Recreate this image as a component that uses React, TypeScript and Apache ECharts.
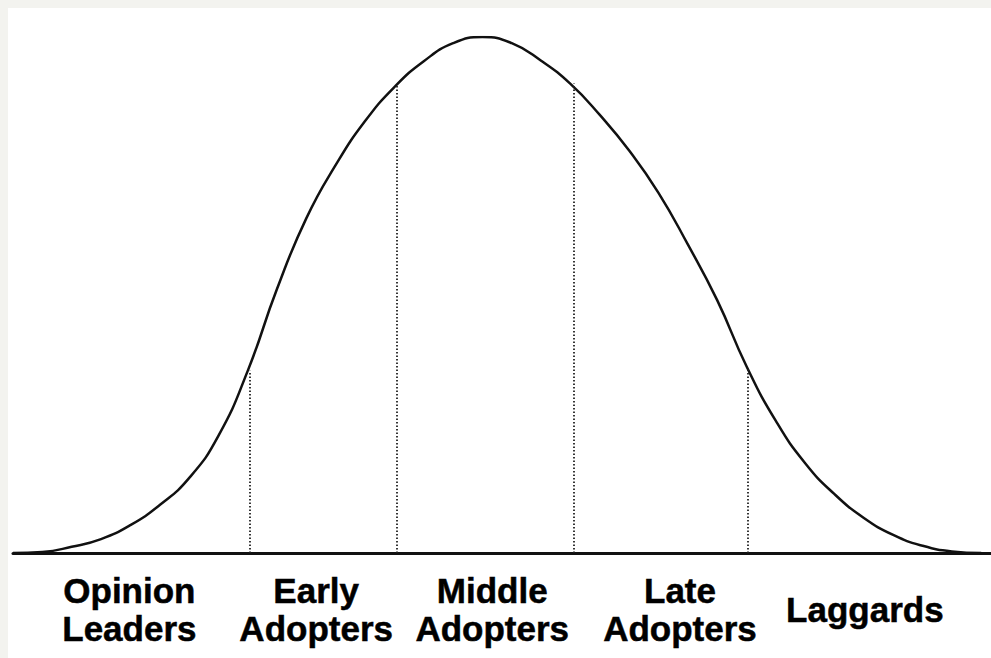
import React, { useEffect, useRef } from "react";
import * as echarts from "echarts";

// Adoption curve (time units on x, relative share on y)
const curveX = [0, 3, 6, 9, 12, 15, 18, 21, 24, 27, 30, 33, 36, 39, 42, 45, 48, 51, 54, 57, 60, 63, 66, 69, 72, 75, 78, 81, 84, 87, 90, 93, 96, 99];
const curveY = [0, 0.2, 1.2, 2.7, 5.4, 9.3, 14.5, 22.7, 35.3, 51.2, 64.9, 75.2, 83.7, 90.3, 95.3, 98.8, 100, 98.8, 95.4, 90.9, 84.9, 78.0, 69.8, 59.8, 49.0, 36.2, 25.6, 17.4, 11.4, 6.8, 3.5, 1.4, 0.3, 0];

// Segment boundaries (dotted lines)
const boundaryX = [24.2, 39.2, 57.3, 75.1];
const boundaryY = [35.3, 90.6, 91.0, 35.6];

// Category labels and their centres along the x axis
const categories = ["Opinion\nLeaders", "Early\nAdopters", "Middle\nAdopters", "Late\nAdopters", "Laggards"];
const labelX = [11.9, 31.0, 49.0, 68.2, 87.1];
const labelLevel = -11;

export default function App() {
  const ref = useRef<HTMLDivElement>(null);

  useEffect(() => {
    if (!ref.current) return;
    const chart = echarts.init(ref.current, null, { renderer: "svg" });
    const curveData = curveX.map((x, i) => [x, curveY[i]]);
    const labelData = labelX.map((x, i) => ({ value: [x, labelLevel], name: categories[i] }));
    chart.setOption({
      animation: false,
      backgroundColor: "#ffffff",
      grid: { left: 5, right: 0, top: 29, bottom: 1.8 },
      xAxis: {
        type: "value",
        min: 0,
        max: 100,
        axisLine: { show: true, onZero: true, lineStyle: { color: "#111", width: 3 } },
        axisTick: { show: false },
        axisLabel: { show: false },
        splitLine: { show: false },
      },
      yAxis: {
        type: "value",
        min: -20,
        max: 100,
        show: false,
        splitLine: { show: false },
      },
      series: [
        {
          type: "line",
          data: curveData,
          smooth: 0.5,
          showSymbol: false,
          silent: true,
          lineStyle: { color: "#111", width: 2.5 },
          z: 3,
          markLine: {
            silent: true,
            symbol: ["none", "none"],
            label: { show: false },
            lineStyle: { color: "#222", width: 1.8, type: [1.5, 2] },
            data: boundaryX.map((x, i) => [
              { coord: [x, 0] },
              { coord: [x, boundaryY[i]] },
            ]),
          },
        },
        {
          type: "scatter",
          data: labelData,
          symbolSize: 0,
          silent: true,
          itemStyle: { opacity: 1 },
          label: {
            show: true,
            position: "inside",
            formatter: (p: any) => p.name,
            color: "#000",
            opacity: 1,
            fontFamily: "Liberation Sans, Arial, sans-serif",
            fontWeight: "bold",
            fontSize: 35,
            lineHeight: 38,
            align: "center",
            textBorderColor: "#000",
            textBorderWidth: 0.5,
          },
        },
      ],
    });
    return () => chart.dispose();
  }, []);

  return (
    <div style={{ position: "fixed", left: 0, top: 0, width: 991, height: 658, background: "#f3f3ef", overflow: "hidden" }}>
      <div ref={ref} style={{ position: "absolute", left: 8, top: 8, width: 983, height: 650, background: "#ffffff" }} />
    </div>
  );
}
